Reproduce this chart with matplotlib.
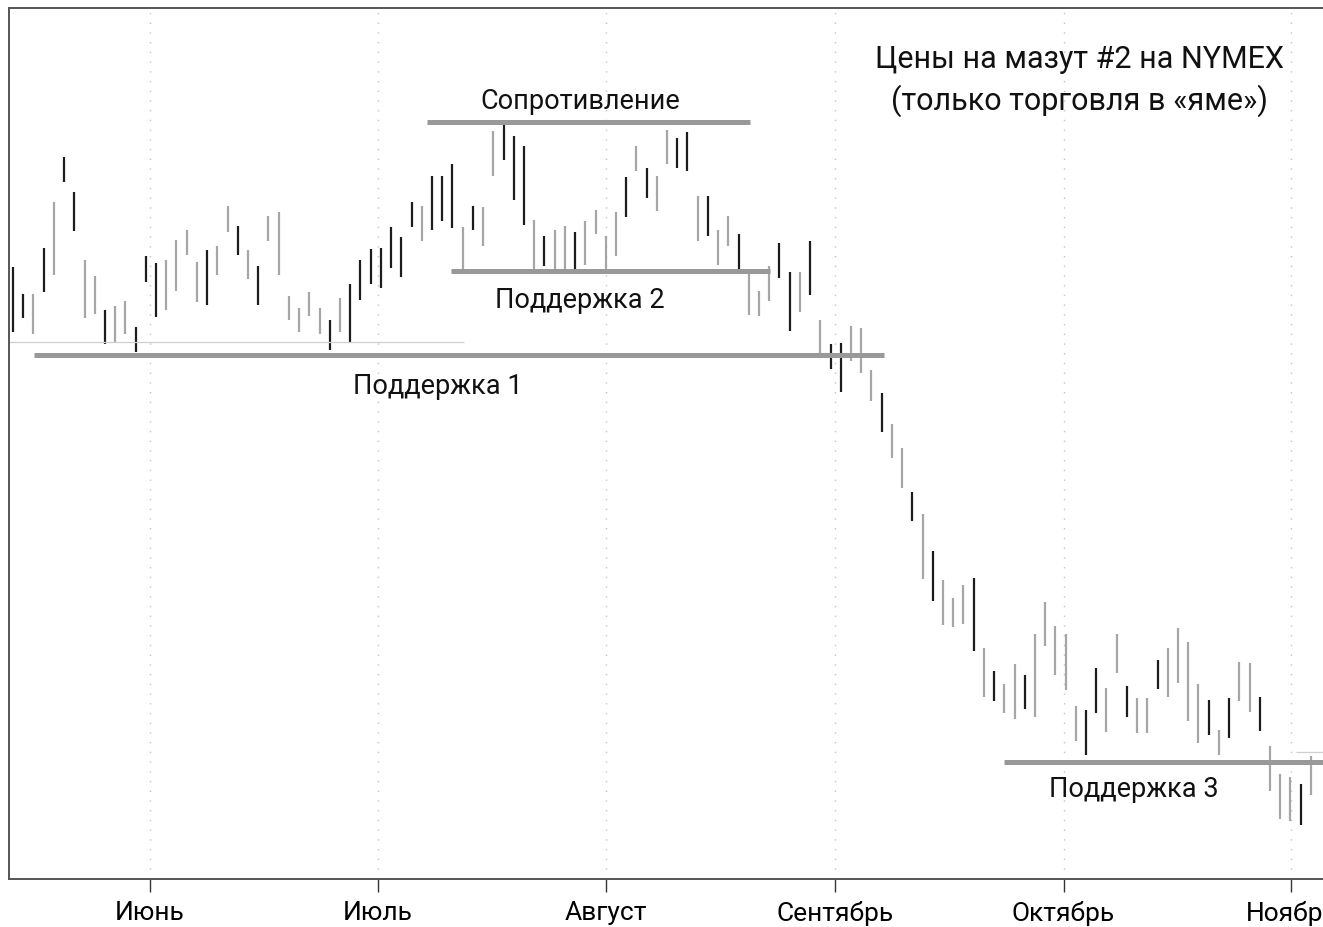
import numpy as np
import matplotlib.pyplot as plt

# heating oil #2, NYMEX pit session, cents per gallon (daily high / low)
highs = [76.60, 75.25, 75.25, 77.55, 79.85, 82.10, 80.35, 76.95, 76.15, 74.45,
         74.65, 74.90, 73.60, 77.15, 76.80, 76.95, 77.95, 78.45, 76.85, 77.45,
         77.65, 79.65, 78.65, 77.45, 76.65, 79.15, 79.35, 75.15, 74.55, 75.35,
         74.55, 73.95, 75.05, 75.75, 76.95, 77.50, 77.55, 78.60, 78.10, 79.85,
         79.65, 81.15, 81.15, 81.75, 78.60, 79.65, 79.60, 83.40, 83.90, 83.15,
         82.65, 78.95, 78.15, 78.45, 78.65, 78.35, 78.90, 79.45, 78.15, 79.35,
         81.10, 82.65, 81.55, 81.15, 83.45, 83.05, 83.35, 80.15, 80.15, 78.45,
         79.15, 78.25, 76.25, 75.40, 76.65, 77.80, 76.35, 76.35, 77.90, 73.95,
         72.75, 72.80, 73.65, 73.55, 71.45, 70.30, 68.75, 67.55, 65.35, 64.25,
         62.40, 60.95, 60.05, 60.70, 61.05, 57.55, 56.40, 55.75, 56.75, 56.20,
         58.25, 59.85, 58.65, 58.25, 54.65, 54.45, 56.55, 55.55, 58.25, 55.65,
         55.05, 55.05, 56.95, 57.55, 58.55, 57.85, 55.75, 54.95, 53.45, 55.05,
         56.85, 56.80, 55.10, 52.65, 51.25, 51.10, 50.75, 52.15]
lows = [73.35, 74.05, 73.25, 75.35, 76.20, 80.85, 78.40, 74.05, 74.25, 72.75,
        72.85, 73.25, 72.35, 75.85, 74.10, 74.45, 75.40, 77.20, 74.85, 74.70,
        76.20, 78.35, 77.20, 76.00, 74.70, 77.90, 76.20, 73.95, 73.35, 74.15,
        73.25, 72.45, 73.35, 72.85, 74.95, 75.75, 75.55, 76.55, 76.10, 78.60,
        77.90, 78.45, 78.90, 78.55, 76.50, 78.45, 77.65, 81.15, 81.95, 79.95,
        78.70, 76.40, 76.65, 76.40, 76.40, 76.35, 76.70, 78.25, 76.40, 77.15,
        79.10, 81.40, 80.05, 79.40, 81.75, 81.55, 81.40, 77.90, 78.15, 76.70,
        77.65, 76.45, 74.20, 74.15, 74.90, 76.05, 73.40, 74.35, 75.20, 72.15,
        71.50, 70.35, 71.90, 71.30, 69.90, 68.35, 67.05, 65.55, 63.90, 61.00,
        59.90, 58.70, 58.60, 58.75, 57.40, 55.10, 54.90, 54.30, 54.00, 54.50,
        54.10, 57.65, 56.20, 55.45, 52.90, 52.20, 54.30, 53.35, 56.30, 54.10,
        53.30, 53.30, 55.50, 55.10, 55.80, 53.90, 52.80, 53.20, 52.20, 53.05,
        54.90, 54.35, 53.40, 50.40, 49.00, 48.90, 48.70, 50.20]
# d = dark bar, g = grey bar
tones = ("ddgdgddggd" "ggdddggggd" "ggdgdggggg" "gdgddddddd"
         "gdddgdggdd" "dgdggdgggg" "dgdggddgdg" "gdgggddgdg"
         "ddgggdggdg" "dgggdgdggd" "gggggddggd" "ggdggggdgd"
         "ggdgggdg")

months = ["Июнь", "Июль", "Август", "Сентябрь", "Октябрь", "Ноябрь"]
month_pos = [13.4, 35.7, 58.0, 80.4, 102.8, 125.1]

# support / resistance levels: (label, price, start bar, end bar)
levels = [("Сопротивление", 83.85, 40.5, 72.1),
          ("Поддержка 2", 76.40, 42.9, 74.1),
          ("Поддержка 1", 72.20, 2.05, 85.2),
          ("Поддержка 3", 51.85, 97.0, 131.0)]
label_pos = [(55.5, 84.9), (55.5, 74.95), (41.6, 70.65), (109.7, 50.5)]

plt.rcParams["font.family"] = ["Roboto", "DejaVu Sans"]

fig = plt.figure(figsize=(13.23, 9.28), dpi=100)
ax = fig.add_axes([9 / 1323, 48 / 928, 1331 / 1323, 871 / 928])

x = np.arange(len(highs))
cols = ["#1c1c1c" if t == "d" else "#a6a6a6" for t in tones]
ax.vlines(x, lows, highs, colors=cols, linewidth=1.6)

# thin reference lines
ax.hlines(72.85, -1, 44.1, color="#cfcfcf", linewidth=0.9)
ax.hlines(52.35, 125.5, 131, color="#cfcfcf", linewidth=0.9)
for (name, price, a, b), (lx, ly) in zip(levels, label_pos):
    ax.hlines(price, a, b, color="#999999", linewidth=3.6, zorder=3)
    ax.text(lx, ly, name, ha="center", va="center", fontsize=19.5, color="#111111")

ax.text(104.4, 87.0, "Цены на мазут #2 на NYMEX", ha="center", va="center",
        fontsize=22, color="#111111")
ax.text(104.4, 84.95, "(только торговля в «яме»)", ha="center", va="center",
        fontsize=22, color="#111111")

ax.set_xlim(-0.39, 129.85)
ax.set_ylim(46.0, 89.55)
ax.set_xticks(month_pos)
ax.set_xticklabels(months, fontsize=19)
ax.set_yticks([])
ax.tick_params(axis="x", length=9, width=1, color="#333333", pad=6)
ax.grid(axis="x", color="#c4c4c4", linestyle=(0, (1, 6)), linewidth=1)
for s in ax.spines.values():
    s.set_color("#555555")
    s.set_linewidth(1.4)

fig.savefig("out.png", dpi=100)
